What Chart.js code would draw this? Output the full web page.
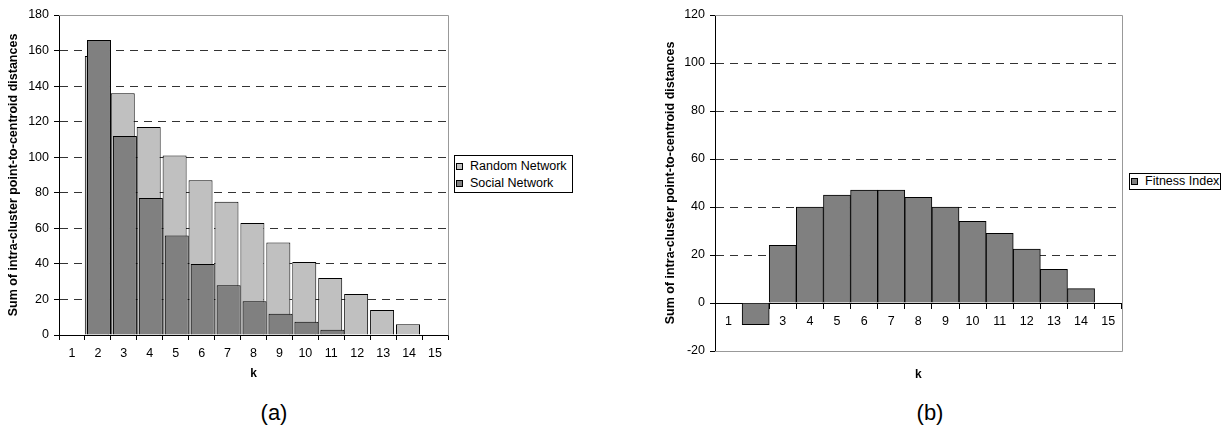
<!DOCTYPE html>
<html>
<head>
<meta charset="utf-8">
<script src="https://cdn.jsdelivr.net/npm/chart.js@4.4.0/dist/chart.umd.min.js"></script>
<style>
  body { margin: 0; background: #fff; font-family: Arial, "Liberation Sans", sans-serif; color: #000; }
  #wrap { position: relative; width: 1231px; height: 427px; overflow: hidden; }
  canvas { position: absolute; top: 0; }
  .legend { position: absolute; border: 1px solid #000; background: #fff; font-size: 12.5px; }
  .legend .item { position: absolute; left: 1px; white-space: nowrap; }
  .legend .sw { display: inline-block; width: 5px; height: 5px; border: 1px solid #000; margin-right: 7px; vertical-align: 0; }
  .caption { position: absolute; font-size: 22px; transform: translate(-50%, -50%); }
</style>
</head>
<body>
<div id="wrap">
  <canvas id="chartA" width="470" height="390" style="left:0px"></canvas>
  <canvas id="chartB" width="480" height="390" style="left:660px"></canvas>

  <div class="legend" style="left:454px;top:155px;width:117px;height:36px;">
    <div class="item" style="top:2px;line-height:17px"><span class="sw" style="background:#c0c0c0"></span>Random Network</div>
    <div class="item" style="top:19px;line-height:17px"><span class="sw" style="background:#808080"></span>Social Network</div>
  </div>
  <div class="legend" style="left:1129px;top:173px;width:90px;height:15px;">
    <div class="item" style="top:0px;line-height:15px"><span class="sw" style="background:#808080"></span>Fitness Index</div>
  </div>

  <div class="caption" style="left:274px;top:413px">(a)</div>
  <div class="caption" style="left:930px;top:413px">(b)</div>
</div>
<script>
/* dữ liệu */
const kLabels = ['1', '2', '3', '4', '5', '6', '7', '8', '9', '10', '11', '12', '13', '14', '15'];
const randomNetwork = [null, 157, 136, 117, 101, 87, 75, 63, 52, 41, 32, 23, 14, 6, null];
const socialNetwork = [null, 166, 112, 77, 56, 40, 28, 19, 12, 7.5, 3, null, null, null, null];
const fitnessIndex = [null, -9, 24, 40, 45, 47, 47, 44, 40, 34, 29, 22.5, 14, 6, null];
const yTitle = 'Sum of intra-cluster point-to-centroid distances';
const xTitle = 'k';

const FONT = 'Arial, "Liberation Sans", sans-serif';
Chart.defaults.font.family = FONT;
Chart.defaults.color = '#000';

// khung xám của vùng vẽ (cạnh trên, phải, và dưới nếu cần)
const plotFrame = {
    id: 'plotFrame',
    beforeDatasetsDraw(chart, args, opts) {
        const { ctx, chartArea: a } = chart;
        const l = Math.round(a.left), t = Math.round(a.top) + 0.5;
        const r = Math.round(a.right) + 0.5, b = Math.round(a.bottom) + 0.5;
        ctx.save();
        ctx.strokeStyle = opts.color || '#999';
        ctx.lineWidth = 1;
        ctx.beginPath();
        ctx.moveTo(l, t); ctx.lineTo(r, t); ctx.lineTo(r, b);
        if (opts.bottom) ctx.lineTo(l, b);
        ctx.stroke();
        ctx.restore();
    }
};

const yScale = (min, max, width, titlePad) => ({
    min: min, max: max,
    ticks: { stepSize: 20, color: '#000', font: { size: 12.5 }, padding: 5 },
    grid: { color: '#333', tickColor: '#000', tickLength: 5, lineWidth: 1 },
    border: { color: '#000', dash: [8, 6] },
    title: { display: true, text: yTitle, color: '#000', font: { size: 12.5, weight: 'bold' }, padding: { top: titlePad, bottom: 0 } },
    afterFit: (s) => { s.width = width; }
});

// trục x ẩn, lệch nhẹ để hai chuỗi cột chồng lên nhau như Excel (overlap)
const shift = 0.042;
const hiddenX = (d) => ({
    type: 'linear', display: false, offset: false, bounds: 'data',
    afterBuildTicks: (s) => { s.min = 0.5 + d; s.max = 15.5 + d; s.ticks = []; }
});

/* Biểu đồ (a) */
new Chart(document.getElementById('chartA').getContext('2d'), {
    type: 'bar',
    data: {
        labels: kLabels,
        datasets: [
            { label: 'Random Network', data: randomNetwork, xAxisID: 'xr', backgroundColor: '#c0c0c0', borderColor: '#000', borderWidth: 1, order: 1 },
            { label: 'Social Network', data: socialNetwork, xAxisID: 'xs', backgroundColor: '#808080', borderColor: '#000', borderWidth: 1, order: 0 }
        ]
    },
    options: {
        responsive: false, animation: false,
        grouped: false, barPercentage: 0.925, categoryPercentage: 1,
        layout: { padding: { top: 15, right: 22, bottom: 0, left: 0 } },
        plugins: { legend: { display: false }, tooltip: { enabled: false }, plotFrame: { color: '#999' } },
        scales: {
            x: {
                type: 'category', offset: true,
                grid: { offset: true, drawOnChartArea: false, tickLength: 5, tickColor: '#000' },
                border: { color: '#000' },
                ticks: { color: '#000', font: { size: 12.5 }, padding: 6, maxRotation: 0, autoSkip: false },
                title: { display: true, text: xTitle, color: '#000', font: { size: 12, weight: 'bold' }, padding: { top: 0, bottom: 9 } },
                afterFit: (s) => { s.height = 55; }
            },
            xr: hiddenX(shift),
            xs: hiddenX(-shift),
            y: yScale(0, 180, 59, 6.5)
        }
    },
    plugins: [plotFrame]
});

/* Biểu đồ (b) - Fitness Index, trục k cắt tại 0 */
new Chart(document.getElementById('chartB').getContext('2d'), {
    type: 'bar',
    data: {
        labels: kLabels,
        datasets: [
            { label: 'Fitness Index', data: fitnessIndex, backgroundColor: '#808080', borderColor: '#000', borderWidth: 1, barPercentage: 1, categoryPercentage: 1 }
        ]
    },
    options: {
        responsive: false, animation: false,
        layout: { padding: { top: 15, right: 18.3, bottom: 39, left: 0 } },
        plugins: { legend: { display: false }, tooltip: { enabled: false }, plotFrame: { color: '#999', bottom: true } },
        scales: {
            x: {
                type: 'category', offset: true, position: { y: 0 },
                grid: { offset: true, drawOnChartArea: false, tickLength: 5, tickColor: '#000' },
                border: { color: '#000' },
                ticks: { color: '#000', font: { size: 12.5 }, padding: 6, maxRotation: 0, autoSkip: false },
                title: { display: true, text: xTitle, color: '#000', font: { size: 12, weight: 'bold' }, padding: { top: 32, bottom: 0 } }
            },
            y: yScale(-20, 120, 55, 3)
        }
    },
    plugins: [plotFrame]
});
</script>
</body>
</html>
